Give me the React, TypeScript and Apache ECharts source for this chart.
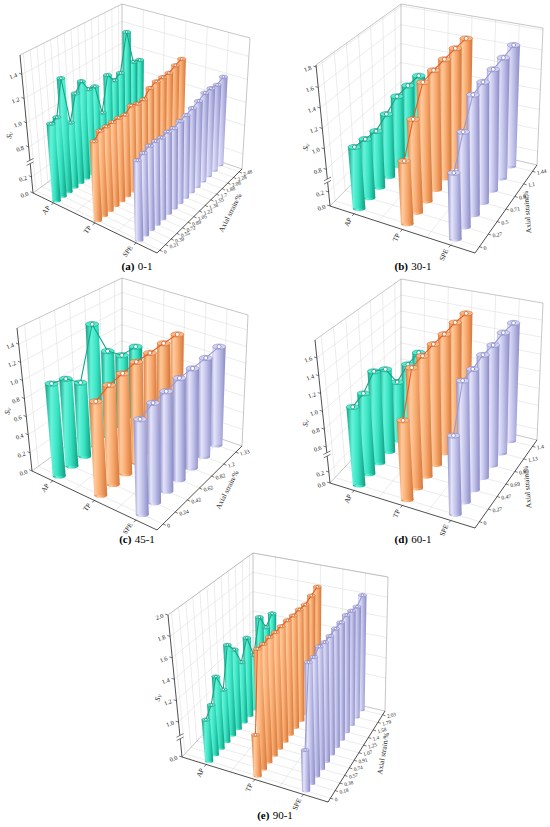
import React, { useEffect, useRef } from 'react';
import * as echarts from 'echarts';

// ---------------- data ----------------
const rowNames = ['AP', 'TP', 'SPE'];

const strainA = ['0', '0.21', '0.39', '0.55', '0.72', '0.89', '1.05', '1.22', '1.38', '1.55', '1.7', '1.88', '2.08', '2.28', '2.48'];
const apA = [1.05, 1.07, 1.36, 0.96, 1.17, 1.24, 1.14, 1.13, 0.87, 1.16, 1.08, 1.11, 1.44, 1.14, 1.12];
const tpA = [1.05, 1.1, 1.1, 1.1, 1.1, 1.09, 1.13, 1.11, 1.11, 1.17, 1.19, 1.19, 1.19, 1.22, 1.24];
const speA = [1.04, 1.06, 1.08, 1.08, 1.07, 1.08, 1.07, 1.09, 1.1, 1.12, 1.14, 1.17, 1.17, 1.16, 1.19];
const valueTicksA = [0, 0.2, 0.8, 1.0, 1.2, 1.4];

const strainB = ['0', '0.27', '0.5', '0.71', '0.92', '1.1', '1.44'];
const apB = [1.04, 1.02, 1.0, 1.07, 1.15, 1.16, 1.16];
const tpB = [1.04, 1.34, 1.6, 1.62, 1.63, 1.64, 1.64];
const speB = [1.06, 1.34, 1.59, 1.61, 1.63, 1.64, 1.66];
const valueTicksB = [0, 0.2, 0.8, 1.0, 1.2, 1.4, 1.6, 1.8];

const strainC = ['0', '0.24', '0.42', '0.62', '0.82', '1.2', '1.33'];
const apC = [1.02, 0.98, 0.84, 1.42, 1.01, 0.86, 0.86];
const tpC = [1.02, 1.1, 1.13, 1.16, 1.16, 1.17, 1.17];
const speC = [1.02, 1.09, 1.11, 1.15, 1.15, 1.16, 1.18];
const valueTicksC = [0, 0.2, 0.4, 0.6, 0.8, 1.0, 1.2, 1.4];

const strainD = ['0', '0.27', '0.47', '0.69', '0.88', '1.13', '1.4'];
const apD = [1.07, 1.11, 1.25, 1.16, 0.89, 0.98, 1.0];
const tpD = [1.07, 1.54, 1.56, 1.58, 1.58, 1.6, 1.59];
const speD = [1.05, 1.53, 1.54, 1.58, 1.57, 1.59, 1.58];
const valueTicksD = [0, 0.2, 0.6, 0.8, 1.0, 1.2, 1.4, 1.6];

const strainE = ['0', '0.18', '0.38', '0.57', '0.74', '0.91', '1.07', '1.25', '1.4', '1.58', '1.79', '2.03'];
const apE = [1.06, 1.14, 1.35, 1.17, 1.54, 1.44, 1.26, 1.44, 1.21, 1.53, 1.37, 1.45];
const tpE = [1.05, 1.78, 1.77, 1.78, 1.77, 1.77, 1.77, 1.76, 1.76, 1.75, 1.78, 1.81];
const speE = [1.04, 1.77, 1.76, 1.8, 1.78, 1.78, 1.79, 1.79, 1.8, 1.78, 1.76, 1.81];
const valueTicksE = [0, 1.0, 1.2, 1.4, 1.6, 1.8, 2.0];

// ---------------- layout / style ----------------
type Pt = [number, number];
interface Box { F00: Pt; F10: Pt; F11: Pt; F01: Pt; T00: Pt; T10: Pt; T11: Pt; T01: Pt; }
interface Panel {
  tag: string; name: string; strain: string[]; rows: number[][]; ticks: number[];
  vStops: number[]; tStops: number[]; breakT: number | null;
  box: Box; r: number; catRot: number; strainRot: number; strainSize: number; titleRot: number; titleOff: Pt; cap: Pt;
}

const panels: Panel[] = [
  {
    tag: '(a)', name: '0-1', strain: strainA, rows: [apA, tpA, speA], ticks: valueTicksA,
    vStops: [0, 0.2, 0.8, 1.56], tStops: [0, 0.116, 0.333, 1], breakT: 0.225,
    box: { F00: [33, 193], F10: [157, 253], F11: [242, 169], F01: [122, 128], T00: [20, 55], T10: [155, 103], T11: [250, 38], T01: [122, 4] },
    r: 4.2, catRot: 0.95, strainRot: 0.3, strainSize: 5.3, titleRot: 1.1, titleOff: [31, 2], cap: [137, 266],
  },
  {
    tag: '(b)', name: '30-1', strain: strainB, rows: [apB, tpB, speB], ticks: valueTicksB,
    vStops: [0, 0.2, 0.8, 1.82], tStops: [0, 0.1, 0.26, 1], breakT: 0.18,
    box: { F00: [330, 206], F10: [475, 253], F11: [537, 165], F01: [401, 134], T00: [316, 65], T10: [473, 103], T11: [543, 28], T01: [401, 4] },
    r: 6.3, catRot: 1.15, strainRot: 0.2, strainSize: 5.6, titleRot: 1.65, titleOff: [21, 3], cap: [413, 266],
  },
  {
    tag: '(c)', name: '45-1', strain: strainC, rows: [apC, tpC, speC], ticks: valueTicksC,
    vStops: [0, 1.58], tStops: [0, 1], breakT: null,
    box: { F00: [32, 471], F10: [157, 530], F11: [242, 446], F01: [122, 405], T00: [17, 328], T10: [155, 380], T11: [248, 315], T01: [122, 278] },
    r: 6.5, catRot: 0.95, strainRot: 0.3, strainSize: 5.6, titleRot: 1.1, titleOff: [28, 2], cap: [137, 539],
  },
  {
    tag: '(d)', name: '60-1', strain: strainD, rows: [apD, tpD, speD], ticks: valueTicksD,
    vStops: [0, 0.2, 0.6, 1.8], tStops: [0, 0.077, 0.252, 1], breakT: 0.2,
    box: { F00: [330, 483], F10: [475, 528], F11: [537, 440], F01: [401, 407], T00: [315, 340], T10: [473, 378], T11: [543, 303], T01: [401, 279] },
    r: 6.3, catRot: 1.15, strainRot: 0.2, strainSize: 5.6, titleRot: 1.65, titleOff: [21, 3], cap: [413, 539],
  },
  {
    tag: '(e)', name: '90-1', strain: strainE, rows: [apE, tpE, speE], ticks: valueTicksE,
    vStops: [0, 1.0, 2.0], tStops: [0, 0.246, 1], breakT: 0.14,
    box: { F00: [182, 757], F10: [328, 802], F11: [385, 711], F01: [253, 681], T00: [168, 615], T10: [326, 652], T11: [388, 577], T01: [253, 553] },
    r: 4.1, catRot: 1.15, strainRot: 0.25, strainSize: 5.3, titleRot: 1.4, titleOff: [27, -3], cap: [275, 815],
  },
];

const ROW_STYLE = [
  { stops: ['#0fa083', '#66f3da', '#38e3c2', '#0f9c80'], cap: '#55edd1', edge: '#0d8f75', line: '#14a585' },
  { stops: ['#dc7c3c', '#ffca9c', '#f8a96e', '#d4773a'], cap: '#fdb684', edge: '#c0652a', line: '#f25a1c' },
  { stops: ['#8f8fca', '#e4e4f9', '#c1c1ea', '#8b8bc5'], cap: '#d2d2f3', edge: '#7a7abb', line: '#9a9ad6' },
];
const GRID = '#d8d8d8';
const EDGE = '#a0a0a0';
const AXIS = '#222222';
const FONT = '"Liberation Serif", "DejaVu Serif", serif';

// ---------------- projection helpers ----------------
function bil(b: Box, top: boolean, u: number, w: number): Pt {
  const a = top ? b.T00 : b.F00;
  const bb = top ? b.T10 : b.F10;
  const c = top ? b.T11 : b.F11;
  const d = top ? b.T01 : b.F01;
  const k00 = (1 - u) * (1 - w), k10 = u * (1 - w), k11 = u * w, k01 = (1 - u) * w;
  return [k00 * a[0] + k10 * bb[0] + k11 * c[0] + k01 * d[0], k00 * a[1] + k10 * bb[1] + k11 * c[1] + k01 * d[1]];
}
function project(b: Box, u: number, w: number, t: number): Pt {
  const lo = bil(b, false, u, w);
  const hi = bil(b, true, u, w);
  return [lo[0] + t * (hi[0] - lo[0]), lo[1] + t * (hi[1] - lo[1])];
}
function tOf(P: Panel, v: number): number {
  const vs = P.vStops, ts = P.tStops;
  for (let i = 1; i < vs.length; i++) {
    if (v <= vs[i] || i === vs.length - 1) {
      const f = (v - vs[i - 1]) / (vs[i] - vs[i - 1]);
      return ts[i - 1] + f * (ts[i] - ts[i - 1]);
    }
  }
  return 1;
}

function buildData(P: Panel): number[][] {
  const d: number[][] = [[0, 0, 0, 0]];
  P.rows.forEach((vals, k) => {
    for (let j = vals.length - 1; j >= 0; j--) d.push([1, k, j, vals[j]]);
    d.push([2, k, 0, 0]);
  });
  d.push([3, 0, 0, 0]);
  return d;
}

function makeRender(P: Panel) {
  return (params: any, api: any) => {
    const kind = api.value(0), k = api.value(1), j = api.value(2), v = api.value(3);
    const base = params.dataIndex * 1000;
    const n = P.strain.length;
    const pp = (u: number, w: number, t: number): Pt => {
      const c = api.coord(project(P.box, u, w, t));
      return [c[0], c[1]];
    };
    const wOf = (i: number) => (i + 0.5) / n;
    const uOf = (i: number) => (i + 0.5) / 3;
    const kids: any[] = [];
    const line = (a: Pt, b: Pt, stroke: string, lw: number) =>
      kids.push({ type: 'line', shape: { x1: a[0], y1: a[1], x2: b[0], y2: b[1] }, style: { stroke, lineWidth: lw } });
    const text = (p: Pt, s: string, o: any) =>
      kids.push({
        type: 'text', x: p[0], y: p[1], rotation: o.rot || 0,
        style: { text: s, fill: '#1a1a1a', fontSize: o.size || 7, fontFamily: FONT, align: o.align || 'center', verticalAlign: 'middle', rich: o.rich },
      });
    const norm = (a: Pt): Pt => { const l = Math.hypot(a[0], a[1]) || 1; return [a[0] / l, a[1] / l]; };

    if (kind === 0) {
      P.ticks.forEach((tv) => {
        if (tv === 0) return;
        const t = tOf(P, tv);
        line(pp(0, 0, t), pp(0, 1, t), GRID, 0.5);
        line(pp(0, 1, t), pp(1, 1, t), GRID, 0.5);
      });
      for (let i = 0; i < n; i++) {
        const w = wOf(i);
        line(pp(0, w, 0), pp(0, w, 1), GRID, 0.5);
        line(pp(0, w, 0), pp(1, w, 0), GRID, 0.5);
      }
      [1 / 6, 1 / 3, 1 / 2, 2 / 3, 5 / 6].forEach((u) => {
        line(pp(u, 1, 0), pp(u, 1, 1), GRID, 0.5);
        line(pp(u, 0, 0), pp(u, 1, 0), GRID, 0.5);
      });
      line(pp(0, 0, 1), pp(0, 1, 1), EDGE, 0.6);
      line(pp(0, 1, 1), pp(1, 1, 1), EDGE, 0.6);
      line(pp(0, 1, 0), pp(0, 1, 1), EDGE, 0.6);
      line(pp(1, 1, 0), pp(1, 1, 1), EDGE, 0.6);
      line(pp(0, 0, 0), pp(0, 1, 0), EDGE, 0.6);
      line(pp(0, 1, 0), pp(1, 1, 0), EDGE, 0.6);
    } else if (kind === 1) {
      const RS = ROW_STYLE[k];
      const u = uOf(k), w = wOf(j);
      const b = pp(u, w, 0), tp = pp(u, w, tOf(P, v));
      const r = P.r, ry = r * 0.4;
      const grad = () => new echarts.graphic.LinearGradient(0, 0, 1, 0,
        RS.stops.map((c, i) => ({ offset: [0, 0.3, 0.6, 1][i], color: c })));
      kids.push({ type: 'ellipse', shape: { cx: b[0], cy: b[1], rx: r, ry }, style: { fill: grad() } });
      kids.push({
        type: 'polygon',
        shape: { points: [[tp[0] - r, tp[1]], [tp[0] + r, tp[1]], [b[0] + r, b[1]], [b[0] - r, b[1]]] },
        style: { fill: grad() },
      });
      kids.push({ type: 'ellipse', shape: { cx: tp[0], cy: tp[1], rx: r, ry }, style: { fill: RS.cap, stroke: RS.edge, lineWidth: 0.5 } });
    } else if (kind === 2) {
      const RS = ROW_STYLE[k];
      const u = uOf(k);
      const pts = P.rows[k].map((val, i) => pp(u, wOf(i), tOf(P, val)));
      kids.push({ type: 'polyline', shape: { points: pts }, style: { stroke: RS.line, lineWidth: 1.1, fill: 'none' } });
      pts.forEach((p) => kids.push({
        type: 'circle', shape: { cx: p[0], cy: p[1], r: Math.max(1.2, P.r * 0.3) },
        style: { fill: '#ffffff', stroke: RS.edge, lineWidth: 0.8 },
      }));
    } else {
      const o = pp(0, 0, 0);
      const dirU = norm([pp(1, 0, 0)[0] - o[0], pp(1, 0, 0)[1] - o[1]]);
      const dirW = norm([pp(0, 1, 0)[0] - o[0], pp(0, 1, 0)[1] - o[1]]);
      line(o, pp(0, 0, 1), AXIS, 0.8);
      line(o, pp(1, 0, 0), AXIS, 0.8);
      line(pp(1, 0, 0), pp(1, 1, 0), AXIS, 0.8);
      // value axis
      P.ticks.forEach((tv) => {
        const a = pp(0, 0, tOf(P, tv));
        line(a, [a[0] - dirU[0] * 3, a[1] - dirU[1] * 3], AXIS, 0.6);
        text([a[0] - 5, a[1]], tv.toFixed(1), { align: 'right', rot: 0.35, size: 6.3 });
      });
      if (P.breakT !== null) {
        const a = pp(0, 0, P.breakT);
        line(pp(0, 0, P.breakT - 0.012), pp(0, 0, P.breakT + 0.012), '#ffffff', 2.2);
        [-1.7, 1.7].forEach((dy) => line([a[0] - 3.5, a[1] + dy + 1.8], [a[0] + 3.5, a[1] + dy - 1.8], AXIS, 0.6));
      }
      // category axis
      for (let i = 0; i < 3; i++) {
        const a = pp(uOf(i), 0, 0);
        const d: Pt = [-dirW[0], -dirW[1]];
        line(a, [a[0] + d[0] * 3, a[1] + d[1] * 3], AXIS, 0.6);
        text([a[0] + d[0] * 6, a[1] + d[1] * 6], rowNames[i], { align: 'right', rot: P.catRot, size: 7 });
      }
      // strain axis
      for (let i = 0; i < n; i++) {
        const a = pp(1, wOf(i), 0);
        line(a, [a[0] + dirU[0] * 3, a[1] + dirU[1] * 3], AXIS, 0.6);
        text([a[0] + dirU[0] * 4.5, a[1] + dirU[1] * 4.5], P.strain[i], { align: 'left', rot: P.strainRot, size: P.strainSize });
      }
      // titles
      const vt = pp(0, 0, 0.42);
      text([vt[0] - 18, vt[1]], '{i|S}{s|V}', {
        rot: 1.25,
        rich: {
          i: { fontSize: 7.5, fontStyle: 'italic', fontFamily: FONT, fill: '#1a1a1a' },
          s: { fontSize: 5, fontFamily: FONT, fill: '#1a1a1a', padding: [3, 0, 0, 0] },
        },
      });
      const st = pp(1, 0.5, 0);
      text([st[0] + P.titleOff[0], st[1] + P.titleOff[1]], 'Axial strain/%', { rot: P.titleRot, size: 7.3 });
    }
    kids.forEach((c, i) => { c.z2 = base + i; });
    return { type: 'group', children: kids };
  };
}

export default function App() {
  const ref = useRef<HTMLDivElement>(null);
  useEffect(() => {
    if (!ref.current) return;
    const chart = echarts.init(ref.current, null, { renderer: 'svg' });
    chart.setOption({
      animation: false,
      backgroundColor: '#ffffff',
      grid: { left: 0, right: 0, top: 0, bottom: 0 },
      xAxis: { type: 'value', min: 0, max: 550, show: false },
      yAxis: { type: 'value', min: 0, max: 827, inverse: true, show: false },
      series: panels.map((P) => ({
        type: 'custom',
        coordinateSystem: 'cartesian2d',
        silent: true,
        animation: false,
        clip: false,
        dimensions: ['kind', 'row', 'idx', 'val'],
        encode: { x: 'kind', y: 'row' },
        renderItem: makeRender(P),
        data: buildData(P),
      })),
      graphic: panels.map((P) => ({
        type: 'text',
        x: P.cap[0],
        y: P.cap[1],
        silent: true,
        style: {
          text: `{b|${P.tag}} {n|${P.name}}`,
          align: 'center',
          verticalAlign: 'middle',
          rich: {
            b: { fontWeight: 'bold', fontSize: 11, fontFamily: FONT, fill: '#000' },
            n: { fontSize: 11, fontFamily: FONT, fill: '#000' },
          },
        },
      })),
    });
    return () => chart.dispose();
  }, []);
  return <div ref={ref} style={{ position: 'absolute', left: 0, top: 0, width: 550, height: 827, background: '#fff' }} />;
}
